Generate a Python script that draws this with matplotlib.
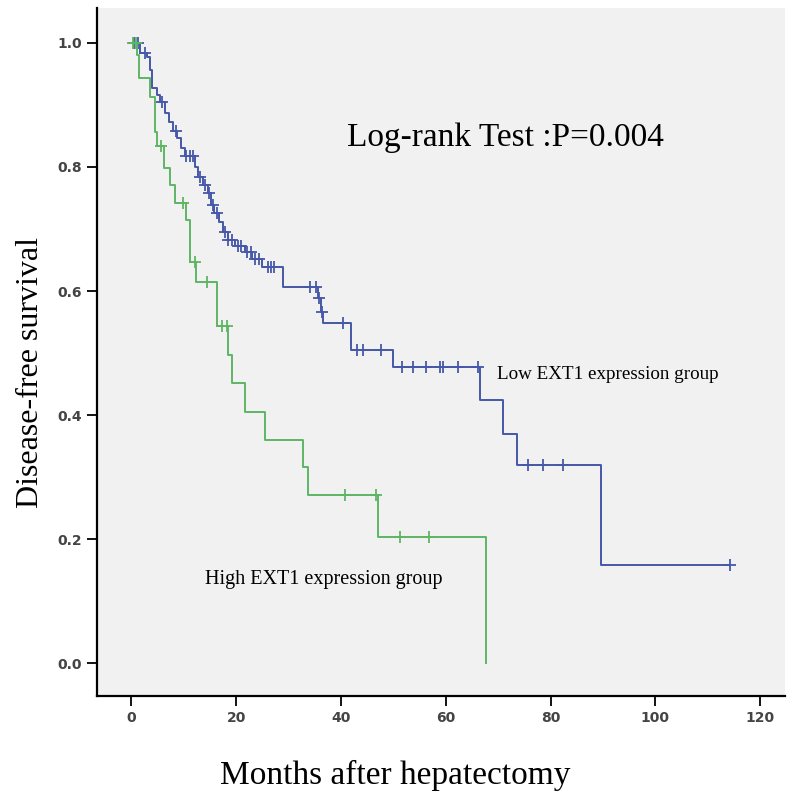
import numpy as np
import matplotlib.pyplot as plt

# Kaplan-Meier steps: event times (months) and survival after each step
low_t = [0, 1.6, 3.0, 3.5, 3.9, 4.9, 5.4, 6.4, 7.2, 7.9, 8.7, 9.4, 10.2, 12.1, 12.7, 13.6,
         14.6, 15.2, 15.7, 16.7, 17.5, 18.4, 19.8, 21.7, 23.0, 24.9, 28.9, 35.7, 36.1, 36.6,
         42.0, 50.0, 66.5, 71.0, 73.5, 89.7]
low_s = [1.0, 0.984, 0.977, 0.956, 0.927, 0.916, 0.905, 0.887, 0.873, 0.858, 0.847, 0.831,
         0.818, 0.800, 0.784, 0.771, 0.758, 0.739, 0.726, 0.711, 0.695, 0.682, 0.673, 0.663,
         0.652, 0.639, 0.607, 0.589, 0.567, 0.548, 0.505, 0.478, 0.424, 0.370, 0.319, 0.158]
low_end = 114.2
low_cens = [0.5, 1.2, 2.6, 5.8, 8.5, 10.4, 11.2, 11.7, 13.1, 14.0, 14.8, 15.5, 16.3, 17.8,
            18.5, 19.2, 20.3, 21.0, 22.1, 22.8, 23.6, 24.3, 26.0, 26.7, 27.2, 34.0, 35.2,
            35.9, 36.3, 40.4, 43.0, 44.2, 47.7, 51.6, 53.8, 56.3, 58.9, 59.5, 62.4, 66.2,
            75.7, 78.6, 82.4, 114.2]

high_t = [0, 1.0, 1.5, 3.5, 4.5, 4.9, 6.2, 7.3, 8.3, 10.4, 11.2, 12.3, 16.3, 18.4, 19.2,
          21.7, 25.5, 32.7, 33.7, 47.0]
high_s = [1.0, 0.98, 0.943, 0.913, 0.857, 0.833, 0.798, 0.771, 0.742, 0.715, 0.647, 0.615,
          0.544, 0.497, 0.452, 0.405, 0.36, 0.316, 0.271, 0.203]
high_end = 67.6
high_cens = [0.3, 0.8, 5.7, 9.8, 12.1, 14.4, 17.3, 18.2, 40.7, 46.7, 51.2, 56.8]

blue = '#4658a8'
green = '#5fb564'

fig = plt.figure(figsize=(8, 8.05), dpi=100)
ax = fig.add_axes([0.121, 0.135, 0.86, 0.855])
ax.set_facecolor('#f1f1f1')


def km(ax, t, s, end, cens, color, drop_to_zero=False):
    tt = list(t) + [end]
    ss = list(s) + [s[-1]]
    if drop_to_zero:
        tt.append(end)
        ss.append(0.0)
    ax.step(tt, ss, where='post', color=color, lw=1.4)
    # censored cases sit on the curve
    idx = np.searchsorted(t, cens, side='right') - 1
    ax.plot(cens, np.array(s)[idx], '+', color=color, ms=9, mew=1.3)


km(ax, low_t, low_s, low_end, low_cens, blue)
km(ax, high_t, high_s, high_end, high_cens, green, drop_to_zero=True)

ax.set_xlim(-6.6, 124.7)
ax.set_ylim(-0.053, 1.056)
ax.set_xticks(np.arange(0, 121, 20))
ax.set_yticks(np.arange(0, 1.01, 0.2))
ax.set_yticklabels(['%.1f' % v for v in np.arange(0, 1.01, 0.2)])
ax.tick_params(direction='out', length=7, width=1.3, labelsize=10, labelcolor='#444444')
for lab in ax.get_xticklabels() + ax.get_yticklabels():
    lab.set_fontweight('bold')
for side in ['left', 'bottom']:
    ax.spines[side].set_linewidth(1.6)
for side in ['top', 'right']:
    ax.spines[side].set_visible(False)

serif = 'Liberation Serif'
fig.text(0.494, 0.037, 'Months after hepatectomy', family=serif, fontsize=24,
         ha='center', va='center')
fig.text(0.038, 0.537, 'Disease-free survival', family=serif, fontsize=23,
         rotation=90, ha='center', va='center')

ax.text(41.1, 0.847, 'Log-rank Test :P=0.004', family=serif, fontsize=24, va='center')
ax.text(69.7, 0.466, 'Low EXT1 expression group', family=serif, fontsize=13.7, va='center')
ax.text(14.0, 0.135, 'High EXT1 expression group', family=serif, fontsize=14.5, va='center')

fig.savefig('out.png')
